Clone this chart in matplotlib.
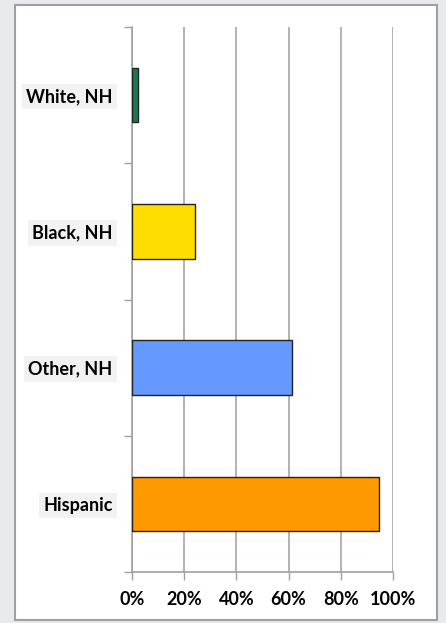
import numpy as np
import matplotlib
matplotlib.use('Agg')
import matplotlib.pyplot as plt
from matplotlib.patches import Rectangle

groups = ['White, NH', 'Black, NH', 'Other, NH', 'Hispanic']
shares = [2.2, 24.3, 61.2, 94.7]
colors = ['#1b7a52', '#ffdd00', '#6699ff', '#ff9900']
xticks = [0, 20, 40, 60, 80, 100]
xticklabels = ['0%', '20%', '40%', '60%', '80%', '100%']

plt.rcParams['font.family'] = ['Lato', 'DejaVu Sans']

fig = plt.figure(figsize=(4.46, 6.23), dpi=100)
fig.patch.set_facecolor('#e7ebf0')

# white chart area with gray frame, kept behind the axes
frame = Rectangle((15 / 446, 3 / 623), 422 / 446, 615 / 623,
                  transform=fig.transFigure, facecolor='white',
                  edgecolor='#a0a0a0', linewidth=1.5, zorder=-1)
fig.add_artist(frame)

ax = fig.add_axes([132 / 446, 51 / 623, 261 / 446, 545 / 623])
ax.set_zorder(1)
ax.set_facecolor('none')

pos = np.arange(len(groups))
ax.barh(pos, shares, height=0.4, color=colors, edgecolor='#222222',
        linewidth=1.0, zorder=3)

ax.set_xlim(0, 100)
ax.set_ylim(len(groups) - 0.5, -0.5)

ax.set_xticks(xticks)
ax.set_xticklabels(xticklabels, fontsize=13, fontweight='bold')
ax.tick_params(axis='x', direction='out', length=6, width=1,
               color='#a0a0a0', pad=8)

ax.set_yticks(pos)
ax.set_yticklabels(groups, fontsize=13, fontweight='bold')
ax.set_yticks(np.arange(-0.5, len(groups), 1.0), minor=True)
ax.tick_params(axis='y', which='major', length=0, pad=14)
ax.tick_params(axis='y', which='minor', direction='out', length=6,
               width=1, color='#a0a0a0')
for lab in ax.get_yticklabels():
    lab.set_bbox(dict(facecolor='#f2f2f2', edgecolor='none', pad=3))

ax.grid(axis='x', color='#a6a6a6', linewidth=1.2, zorder=0)

for side in ['top', 'right']:
    ax.spines[side].set_visible(False)
for side in ['left', 'bottom']:
    ax.spines[side].set_color('#a0a0a0')
    ax.spines[side].set_linewidth(1.2)

fig.savefig('out.png', dpi=100, facecolor=fig.get_facecolor())
